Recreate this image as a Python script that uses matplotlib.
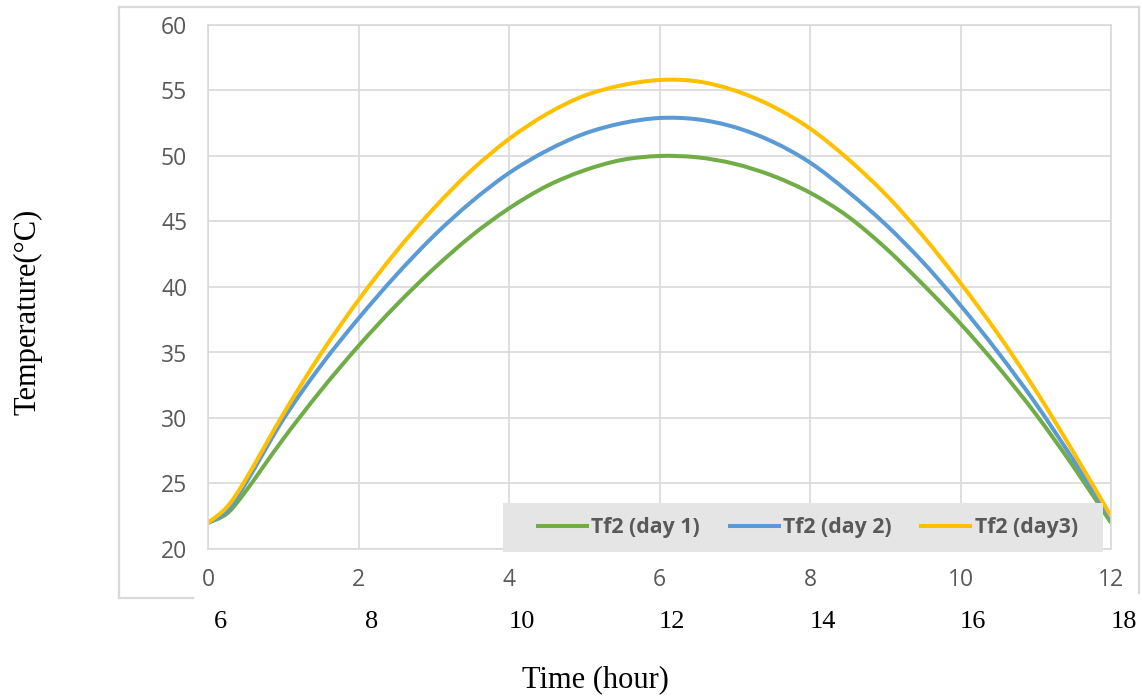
import numpy as np
import matplotlib
matplotlib.use("Agg")
import matplotlib.pyplot as plt
import matplotlib.transforms as mtransforms
from matplotlib.patches import Rectangle, PathPatch
from matplotlib.path import Path
from matplotlib.lines import Line2D

#============================================================
# data
#============================================================
hours = [0, 0.25, 0.5, 1, 1.5, 2, 2.5, 3, 3.5, 4, 4.5, 5, 5.5, 6,
         6.5, 7, 7.5, 8, 8.5, 9, 9.5, 10, 10.5, 11, 11.5, 12]
tf2_day1 = [22.0, 22.7, 24.4, 28.4, 32.1, 35.5, 38.6, 41.4, 43.9, 46.0, 47.7, 48.9, 49.7, 50.0,
            49.9, 49.4, 48.5, 47.2, 45.4, 43.0, 40.2, 37.2, 33.9, 30.3, 26.3, 22.0]
tf2_day2 = [22.0, 22.9, 25.0, 29.9, 34.0, 37.6, 40.9, 43.9, 46.5, 48.7, 50.4, 51.7, 52.5, 52.9,
            52.8, 52.2, 51.1, 49.5, 47.3, 44.8, 41.9, 38.6, 35.0, 31.1, 26.8, 22.3]
tf2_day3 = [22.0, 23.2, 25.3, 30.3, 34.9, 39.0, 42.7, 46.0, 48.9, 51.3, 53.2, 54.6, 55.4, 55.8,
            55.7, 55.0, 53.8, 52.1, 49.8, 47.1, 43.9, 40.3, 36.4, 32.1, 27.4, 22.5]
series_names = ["Tf2 (day 1)", "Tf2 (day 2)", "Tf2 (day3)"]
series_colors = ["#70AD47", "#5B9BD5", "#FFC000"]

x_ticks = [0, 2, 4, 6, 8, 10, 12]
clock_ticks = [6, 8, 10, 12, 14, 16, 18]
y_ticks = [20, 25, 30, 35, 40, 45, 50, 55, 60]

GRID = "#d9d9d9"
TXT = "#595959"
W, H = 1142, 697


def smooth_path(xs, ys):
    # excel-like "smoothed line": catmull-rom segments drawn as cubic beziers
    p = np.column_stack([xs, ys]).astype(float)
    ext = np.vstack([p[0], p, p[-1]])
    verts = [p[0]]
    codes = [Path.MOVETO]
    for i in range(len(p) - 1):
        a, b, c, d = ext[i], ext[i + 1], ext[i + 2], ext[i + 3]
        verts += [b + (c - a) / 6, c - (d - b) / 6, c]
        codes += [Path.CURVE4] * 3
    return Path(verts, codes)


fig = plt.figure(figsize=(W / 100, H / 100), dpi=100)
ax = fig.add_axes([208 / W, 1 - 549 / H, 903 / W, 524 / H])

for vals, col in zip([tf2_day1, tf2_day2, tf2_day3], series_colors):
    ax.add_patch(PathPatch(smooth_path(hours, vals), facecolor="none", edgecolor=col,
                           lw=2.9, capstyle="butt", zorder=2))

ax.set_xlim(0, 12)
ax.set_ylim(20, 60)
ax.set_xticks(x_ticks)
ax.set_yticks(y_ticks)
ax.grid(True, color=GRID, lw=1.2)
ax.set_axisbelow(True)
for s in ax.spines.values():
    s.set_color(GRID)
    s.set_linewidth(1.2)
ax.tick_params(length=0, colors=TXT, labelsize=16.5)
ax.tick_params(axis="y", pad=15)
ax.tick_params(axis="x", pad=14)
for lab in ax.get_xticklabels() + ax.get_yticklabels():
    lab.set_fontfamily("Open Sans")

# clock-time labels under the hour axis
trans = mtransforms.blended_transform_factory(ax.transData, ax.transAxes)
for h, c in zip(x_ticks, clock_ticks):
    ax.text(h + 0.17, -0.139, str(c), transform=trans, ha="center", va="center",
            fontsize=19, family="Liberation Serif", color="black", clip_on=False)

# legend on a grey band
ax.add_patch(Rectangle((295 / 903, -3 / 524), 600 / 903, 49 / 524, transform=ax.transAxes,
                       facecolor="#e5e5e5", edgecolor="none", zorder=4, clip_on=False))
handles = [Line2D([], [], color=c, lw=2.9) for c in series_colors]
leg = ax.legend(handles, series_names, ncol=3, loc="center",
                bbox_to_anchor=(600 / 903, 21.5 / 524), frameon=False,
                handlelength=2.3, handletextpad=0.2, columnspacing=1.4,
                prop={"family": "Open Sans", "weight": "bold", "size": 15.3})
for t in leg.get_texts():
    t.set_color(TXT)
leg.set_zorder(5)

# outer chart border
bx = dict(color=GRID, lw=1.6, transform=fig.transFigure)
fig.add_artist(Line2D([119 / W, 1139 / W], [1 - 7 / H, 1 - 7 / H], **bx))
fig.add_artist(Line2D([119 / W, 119 / W], [1 - 7 / H, 1 - 598 / H], **bx))
fig.add_artist(Line2D([119 / W, 193 / W], [1 - 598 / H, 1 - 598 / H], **bx))
fig.add_artist(Line2D([1139 / W, 1139 / W], [1 - 7 / H, 1 - 593 / H], **bx))

fig.text(595 / W, 1 - 680 / H, "Time (hour)", ha="center", va="center",
         fontsize=22, family="Liberation Serif", color="black")
fig.text(28 / W, 1 - 312 / H, "Temperature(°C)", ha="center", va="center", rotation=90,
         fontsize=22, family="Liberation Serif", color="black")

fig.savefig("out.png", dpi=100)
